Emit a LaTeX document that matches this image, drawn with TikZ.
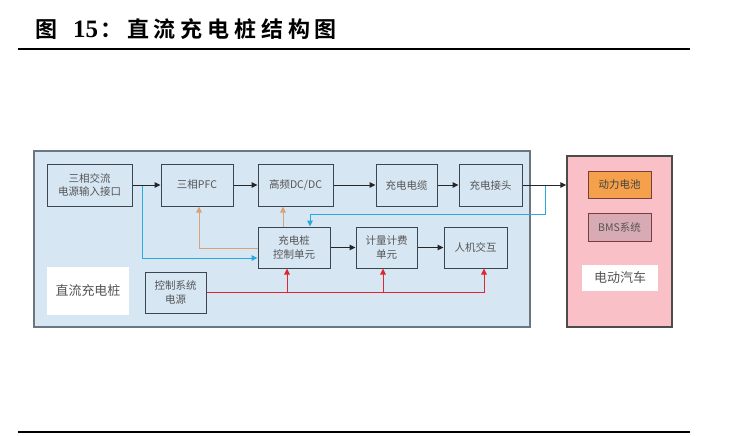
\documentclass[tikz,border=0pt]{standalone}
\usepackage{fontspec}
\setmainfont{Liberation Serif}
\newfontfamily\cjk{Noto Sans CJK SC}
\newfontfamily\cjkb[LetterSpace=22]{Noto Sans CJK SC Bold}
\newfontfamily\titlenum{Liberation Serif Bold}
\usetikzlibrary{arrows.meta}
\definecolor{panelblue}{HTML}{D7E6F3}
\definecolor{panelline}{HTML}{6C7680}
\definecolor{boxline}{HTML}{3B4650}
\definecolor{txtgrey}{HTML}{555555}
\definecolor{cyanl}{HTML}{2AA8E0}
\definecolor{tanl}{HTML}{D8A27C}
\definecolor{redl}{HTML}{E0262E}
\definecolor{pinkf}{HTML}{F9C1C7}
\definecolor{orangef}{HTML}{F5A04A}
\definecolor{mauvef}{HTML}{D8ABB4}
\definecolor{mauvel}{HTML}{7A3C40}
\tikzset{
  blk/.style={draw=boxline, line width=1pt, fill=panelblue, font=\cjk\fontsize{10.5}{13.5}\selectfont, text=txtgrey, align=center, inner sep=0pt},
  lbl/.style={fill=white, font=\cjk\fontsize{13}{15}\selectfont, text=txtgrey, inner sep=0pt},
  ttl/.style={anchor=base west, inner sep=0pt},
  tip/.style={-{Triangle[length=6pt,width=5.5pt]}},
  blackl/.style={draw=black!85, line width=1pt, tip},
  cyanline/.style={draw=cyanl, line width=1pt},
  tanline/.style={draw=tanl, line width=1pt},
  redline/.style={draw=redl, line width=1pt},
}
\begin{document}
\begin{tikzpicture}[x=1pt,y=-1pt]
\useasboundingbox[fill=white] (0,0) rectangle (734,436);
% title
\node[ttl, font=\cjkb\fontsize{22}{24}\selectfont] (t1) at (35,37.5) {图};
\node[ttl, font=\titlenum\fontsize{25}{26}\selectfont] (t2) at (73,37.5) {15};
\node[ttl, font=\cjkb\fontsize{22}{24}\selectfont] (t3) at (100,37.5) {：直流充电桩结构图};
\draw[line width=2pt] (18,49) coordinate (tl1) -- (690,49) coordinate (tl2);
\draw[line width=1.2pt] (18,432) coordinate (bl1) -- (690,432) coordinate (bl2);
% panels
\draw[draw=panelline, line width=1.2pt, fill=panelblue] (34,151) rectangle (530,327);
\draw[draw=black!70, line width=1.2pt, fill=pinkf] (567,156) rectangle (672,327);
\node[inner sep=0pt, minimum width=106pt, minimum height=172pt] (ev) at (619.5,241.5) {};
% nodes
\node[blk, minimum width=85pt, minimum height=42pt] (in) at (89.5,185) {三相交流\\电源输入接口};
\node[blk, minimum width=72pt, minimum height=42pt] (pfc) at (197,185) {三相PFC};
\node[blk, minimum width=75pt, minimum height=42pt] (dcdc) at (295.5,185) {高频DC/DC};
\node[blk, minimum width=61pt, minimum height=42pt] (cable) at (406.5,185) {充电电缆};
\node[blk, minimum width=63pt, minimum height=42pt] (plug) at (490.5,185) {充电接头};
\node[blk, minimum width=72pt, minimum height=41pt] (ctrl) at (294,247.5) {充电桩\\控制单元};
\node[blk, minimum width=61pt, minimum height=41pt] (meter) at (386.5,247.5) {计量计费\\单元};
\node[blk, minimum width=63pt, minimum height=41pt] (hmi) at (475.5,247.5) {人机交互};
\node[lbl, minimum width=82pt, minimum height=48pt] (dclbl) at (88,291) {直流充电桩};
\node[blk, minimum width=61pt, minimum height=41pt] (pwr) at (175.5,292.5) {控制系统\\电源};
\node[blk, draw=mauvel, fill=orangef, minimum width=63pt, minimum height=27pt, text=black!75] (bat) at (619.5,184.5) {动力电池};
\node[blk, draw=mauvel, fill=mauvef, minimum width=63pt, minimum height=28pt] (bms) at (619.5,227) {BMS系统};
\node[lbl, minimum width=76pt, minimum height=26pt] (evlbl) at (620,278) {电动汽车};
% coordinates
\coordinate (c1) at (142,185);
\coordinate (c2) at (142,258);
\coordinate (c3) at (199,248);
\coordinate (c4) at (545,185);
\coordinate (c5) at (545,214);
\coordinate (c6) at (310,214);
\coordinate (c7) at (283,227);
\coordinate (r1) at (287,292.5);
\coordinate (r2) at (383,292.5);
\coordinate (r3) at (484,292.5);
% cyan lines
\draw[cyanline, tip] (c1) -- (c2) -- (c2 -| ctrl.west);
\draw[cyanline, tip] (c4) -- (c5) -- (c6) -- (c6 |- ctrl.north);
% tan lines
\draw[tanline, tip] (ctrl.west |- c3) -- (c3) -- (c3 |- pfc.south);
\draw[tanline, tip] (c7) -- (c7 |- dcdc.south);
% black arrows
\draw[blackl] (in) -- (pfc);
\draw[blackl] (pfc) -- (dcdc);
\draw[blackl] (dcdc) -- (cable);
\draw[blackl] (cable) -- (plug);
\draw[blackl] (plug.east) -- (plug.east -| ev.west);
\draw[blackl] (ctrl) -- (meter);
\draw[blackl] (meter) -- (hmi);
% red lines
\draw[redline] (pwr.east |- r1) -- (r3);
\draw[redline, tip] (r1) -- (r1 |- ctrl.south);
\draw[redline, tip] (r2) -- (r2 |- meter.south);
\draw[redline, tip] (r3) -- (r3 |- hmi.south);
\end{tikzpicture}
\end{document}
